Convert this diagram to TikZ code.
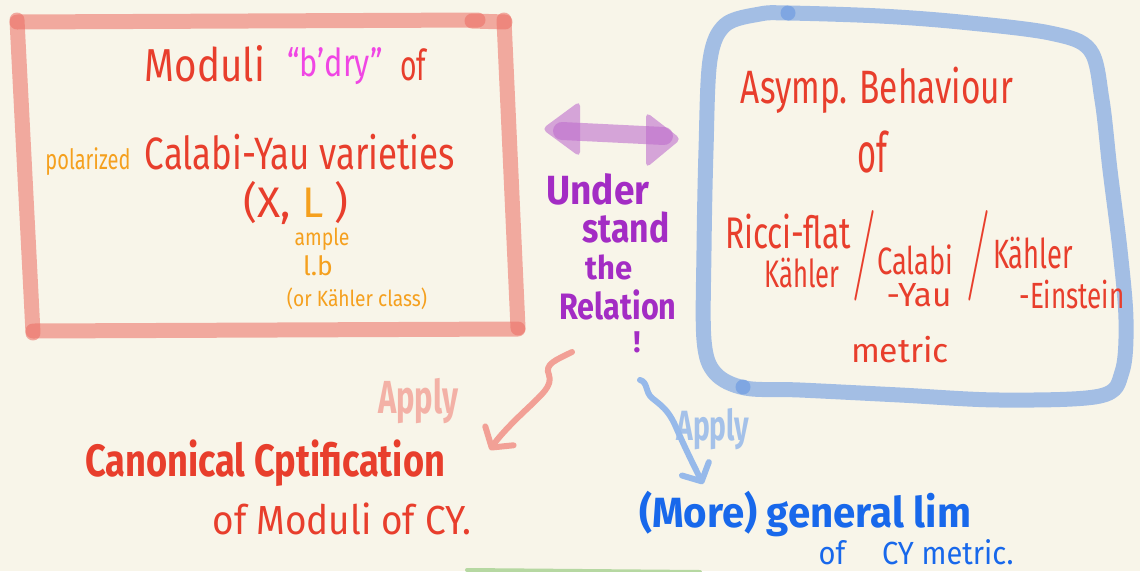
\documentclass[tikz,border=0pt]{standalone}
\usepackage{fontspec}
\setmainfont{Fira Sans}
\newfontfamily\slfont{Latin Modern Roman}
\usepackage{graphicx}
\usetikzlibrary{arrows.meta}
\definecolor{bg}{RGB}{248,245,233}
\definecolor{redtxt}{RGB}{232,62,44}
\definecolor{orangetxt}{RGB}{245,160,30}
\definecolor{magtxt}{RGB}{240,70,228}
\definecolor{purtxt}{RGB}{163,44,196}
\definecolor{bluetxt}{RGB}{24,104,235}
\definecolor{boxred}{RGB}{236,108,98}
\definecolor{boxblue}{RGB}{112,157,226}
\definecolor{purarrow}{RGB}{190,110,205}
\definecolor{salarrow}{RGB}{242,160,150}
\definecolor{bluearrow}{RGB}{150,185,234}
\definecolor{greenline}{RGB}{182,216,162}
\newcommand\fw[3][1.2]{\scalebox{1}[#1]{\resizebox{#2pt}{!}{#3}}}
\newcommand\slsh{\resizebox{24pt}{68pt}{\slfont /}}
\begin{document}
\begin{tikzpicture}[x=1pt,y=-1pt,
  txt/.style={inner sep=0pt, anchor=center, font=\fontsize{20}{24}\selectfont},
  bld/.style={txt, font=\fontsize{20}{24}\selectfont\bfseries},
  redbox/.style={draw=boxred, opacity=0.55, line width=15pt, line cap=round},
  bluebox/.style={draw=boxblue, opacity=0.62, line width=15pt, line cap=round, line join=round},
  relline/.style={draw=purarrow, opacity=0.6, line width=18pt, line cap=round},
  relhead/.style={fill=purarrow, opacity=0.6, rounded corners=5pt},
  applyred/.style={draw=salarrow, line width=6pt, line cap=round, line join=round,
    -{Straight Barb[length=14pt,width=34pt,round]}},
  applyblue/.style={draw=bluearrow, line width=6pt, line cap=round, line join=round,
    -{Straight Barb[length=14pt,width=30pt,round]}}
]
\fill[bg] (0,0) rectangle (1140,571);
\useasboundingbox (0,0) rectangle (1140,571);

% red box
\draw[redbox] (17,22) -- (478,20);
\draw[redbox] (472,21) -- (505,22);
\draw[redbox] (504,20) -- (518,328);
\draw[redbox] (33,331) -- (518,329);
\draw[redbox] (17,20) -- (33,333);

% blue box
\draw[bluebox] plot[smooth cycle, tension=0.55] coordinates {(788,13) (880,16) (960,22) (1050,33) (1090,50) (1102,100) (1110,170) (1120,250) (1126,320) (1122,372) (1100,396) (1000,400) (900,395) (800,390) (745,388) (715,373) (704,340) (704,250) (706,150) (710,60) (725,25) (760,14)};
\fill[boxblue, opacity=0.7] (788,13) circle (7.5pt);
\fill[boxblue, opacity=0.7] (743,387) circle (7.5pt);

% left box text
\node[txt, text=redtxt] (moduli) at (205,64) {\fw[1.2]{120}{Moduli}};
\node[txt, text=magtxt] (bdry) at (335,66) {\fw[1.25]{95}{“b'dry”}};
\node[txt, text=redtxt] (of1) at (413,65) {\fw[1.5]{26}{of}};
\node[txt, text=orangetxt] (polar) at (88,162) {\fw[1.4]{85}{polarized}};
\node[txt, text=redtxt] (cy) at (300,152) {\fw[1.3]{310}{Calabi-Yau varieties}};
\node[txt] (xl) at (296,203) {\fw[1.0]{105}{\textcolor{redtxt}{(X,} \textcolor{orangetxt}{L} \textcolor{redtxt}{)}}};
\node[txt, text=orangetxt] (ample) at (322,239) {\fw[1.2]{55}{ample}};
\node[txt, text=orangetxt] (lb) at (318,266) {\fw[1.0]{30}{l.b}};
\node[txt, text=orangetxt] (kc) at (357,299) {\fw[1.15]{140}{(or Kähler class)}};

% right box text
\node[txt, text=redtxt] (asymp) at (877,90) {\fw[1.4]{272}{Asymp. Behaviour}};
\node[txt, text=redtxt] (of2) at (872,152) {\fw[1.7]{30}{of}};
\node[txt, text=redtxt] (ricci) at (788,231) {\fw[1.4]{126}{Ricci-flat}};
\node[txt, text=redtxt] (kah1) at (802,273) {\fw[1.5]{75}{Kähler}};
\node[txt, text=redtxt] (sl1) at (864,256) {\slsh};
\node[txt, text=redtxt] (calabi) at (915,260) {\fw[1.4]{76}{Calabi}};
\node[txt, text=redtxt] (yau) at (919,295) {\fw[1.0]{65}{-Yau}};
\node[txt, text=redtxt] (sl2) at (978,256) {\slsh};
\node[txt, text=redtxt] (kah2) at (1033,253) {\fw[1.5]{80}{Kähler}};
\node[txt, text=redtxt] (ein) at (1072,294) {\fw[1.4]{105}{-Einstein}};
\node[txt, text=redtxt] (metric) at (900,350) {\fw[1.0]{98}{metric}};

% relation
\coordinate (rl) at (562,131);
\coordinate (rr) at (664,136);
\draw[relline] (rl) -- (rr);
\fill[relhead] ([xshift=-20pt,yshift=2pt]rl) -- ++(38,-28) -- ++(0,56) -- cycle;
\fill[relhead] ([xshift=17pt,yshift=-3pt]rr) -- ++(-35,-27) -- ++(0,56) -- cycle;
\node[bld, text=purtxt] (u1) at (598,189) {\fw[1.1]{103}{Under}};
\node[bld, text=purtxt] (u2) at (626,227) {\fw[1.2]{87}{stand}};
\node[bld, text=purtxt] (u3) at (609,267) {\fw[1.05]{47}{the}};
\node[bld, text=purtxt] (u4) at (618,305) {\fw[1.2]{117}{Relation}};
\node[bld, text=purtxt, font=\fontsize{30}{34}\selectfont\bfseries] (u5) at (637,342) {!};

% bottom left
\node[bld, text=salarrow, opacity=0.8] (app1) at (418,401) {\fw[1.5]{80}{Apply}};
\coordinate (sa) at (572,352);
\coordinate (ta) at (490,450);
\draw[applyred] (sa) .. controls (556,360) and (544,364) .. (549,375) .. controls (553,386) and (540,396) .. (530,406) .. controls (515,420) and (500,435) .. (ta);
\node[bld, text=redtxt] (canon) at (265,463) {\fw[1.25]{360}{Canonical Cptification}};
\node[txt, text=redtxt] (ofmod) at (342,519) {\fw[1.1]{258}{of Moduli of CY.}};

% bottom right
\node[bld, text=bluearrow, opacity=0.85] (app2) at (713,429) {\fw[1.5]{73}{Apply}};
\coordinate (sb) at (640,380);
\coordinate (tb) at (703,484);
\draw[applyblue] (sb) .. controls (648,382) and (645,392) .. (652,398) .. controls (662,406) and (668,410) .. (675,425) .. controls (685,448) and (695,468) .. (tb);
\node[bld, text=bluetxt] (gen) at (805,514) {\fw[1.05]{332}{(More) general lim}};
\node[txt, text=bluetxt] (ofcy) at (916,552) {\fw[1.1]{195}{of \quad CY metric.}};

% green line at bottom
\coordinate (g1) at (467,570);
\coordinate (g2) at (700,572);
\draw[greenline, line width=4pt, line cap=round] (g1) -- (g2);
\end{tikzpicture}
\end{document}
